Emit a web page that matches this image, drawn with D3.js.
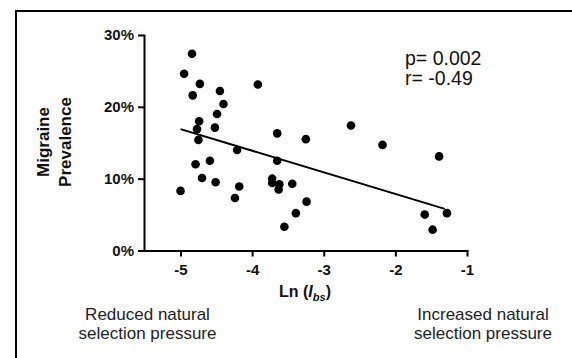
<!DOCTYPE html>
<html>
<head>
<meta charset="utf-8">
<script src="https://cdn.jsdelivr.net/npm/d3@7"></script>
<style>
  body { margin: 0; background: #fff; }
  svg { display: block; font-family: 'Liberation Sans', Arial, sans-serif; }
  .axis path, .axis line { stroke: #000; stroke-width: 2; }
  .axis text { font-size: 15px; font-weight: bold; fill: #111; }
</style>
</head>
<body>
<div id="chart"></div>
<script>
// data: Ln(Ibs) vs migraine prevalence (%)
const lnIbs = [-4.84, -4.95, -4.73, -4.83, -4.45, -4.40, -4.49, -3.92, -4.74, -4.77,
  -4.75, -4.52, -3.65, -4.21, -3.65, -4.59, -4.79, -4.70, -4.51, -5.00,
  -4.18, -4.24, -3.72, -3.72, -3.62, -3.63, -3.44, -3.25, -3.24, -3.39,
  -3.55, -2.62, -2.18, -1.39, -1.59, -1.28, -1.48];
const prevalence = [27.4, 24.6, 23.2, 21.6, 22.2, 20.4, 19.0, 23.1, 18.0, 16.9,
  15.4, 17.1, 16.3, 14.0, 12.5, 12.5, 12.0, 10.1, 9.5, 8.3,
  8.9, 7.3, 10.0, 9.4, 9.2, 8.5, 9.3, 15.5, 6.8, 5.2,
  3.3, 17.4, 14.7, 13.1, 5.0, 5.2, 2.9];
const fitX = [-5.0, -1.31];
const fitY = [16.9, 5.8];
const xTicks = [-5, -4, -3, -2, -1];
const yTicks = [0, 10, 20, 30];
const statLines = ['p= 0.002', 'r= -0.49'];
const leftNote = ['Reduced natural', 'selection pressure'];
const rightNote = ['Increased natural', 'selection pressure'];

const width = 572;
const height = 358;

let svg = d3.select('#chart')
  .append('svg')
  .attr('width', width)
  .attr('height', height);

// frame (only top and left edges show)
svg.append('path')
  .attr('d', 'M16,' + height + 'V11H' + width)
  .attr('fill', 'none')
  .attr('stroke', '#000')
  .attr('stroke-width', 2);

let x = d3.scaleLinear().domain([-5.51, -1]).range([144, 467]);
let y = d3.scaleLinear().domain([0, 30]).range([250.5, 35]);

// axes (hyphen minus like the original, not the unicode minus)
let xAxis = svg.append('g')
  .attr('class', 'axis x-axis')
  .attr('transform', 'translate(0,' + y(0) + ')')
  .call(d3.axisBottom(x).tickValues(xTicks).tickSize(6).tickSizeOuter(0).tickPadding(8)
    .tickFormat(d => String(d)));

let yAxis = svg.append('g')
  .attr('class', 'axis y-axis')
  .attr('transform', 'translate(' + x.range()[0] + ',0)')
  .call(d3.axisLeft(y).tickValues(yTicks).tickSize(6).tickSizeOuter(0).tickPadding(4)
    .tickFormat(d => d + '%'));

svg.selectAll('.axis .domain').attr('stroke-linecap', 'square');

// regression line
let line = d3.line()
  .x((d, i) => x(fitX[i]))
  .y(d => y(d));

svg.append('path')
  .attr('d', line(fitY))
  .attr('fill', 'none')
  .attr('stroke', '#000')
  .attr('stroke-width', 2);

// dots
svg.selectAll('.dot')
  .data(lnIbs)
  .enter()
  .append('circle')
  .attr('class', 'dot')
  .attr('cx', d => x(d))
  .attr('cy', (d, i) => y(prevalence[i]))
  .attr('r', 4.3)
  .attr('fill', '#000');

// y title
let yTitle = svg.append('text')
  .attr('transform', 'translate(49,142) rotate(-90)')
  .attr('text-anchor', 'middle')
  .attr('font-size', '17px')
  .attr('font-weight', 'bold')
  .attr('fill', '#111');
yTitle.append('tspan').attr('x', 0).attr('y', 0).text('Migraine');
yTitle.append('tspan').attr('x', 0).attr('y', 21.5).text('Prevalence');

// x title: Ln (Ibs)
let xTitle = svg.append('text')
  .attr('x', 305)
  .attr('y', 297)
  .attr('text-anchor', 'middle')
  .attr('font-size', '16px')
  .attr('font-weight', 'bold')
  .attr('fill', '#111');
xTitle.append('tspan').text('Ln (');
xTitle.append('tspan').attr('font-style', 'italic').text('I');
xTitle.append('tspan').attr('font-style', 'italic').attr('font-size', '11px').attr('dy', 4).text('bs');
xTitle.append('tspan').attr('dy', -4).text(')');

// stats
svg.selectAll('.stat')
  .data(statLines)
  .enter()
  .append('text')
  .attr('class', 'stat')
  .attr('x', 405)
  .attr('y', (d, i) => 65 + i * 20)
  .attr('font-size', '19.5px')
  .attr('fill', '#111')
  .text(d => d);

// notes under the axis
function note(lines, cx) {
  svg.append('g').selectAll('text')
    .data(lines)
    .enter()
    .append('text')
    .attr('x', cx)
    .attr('y', (d, i) => 320 + i * 19)
    .attr('text-anchor', 'middle')
    .attr('font-size', '17px')
    .attr('fill', '#222')
    .text(d => d);
}
note(leftNote, 147.5);
note(rightNote, 483);
</script>
</body>
</html>
